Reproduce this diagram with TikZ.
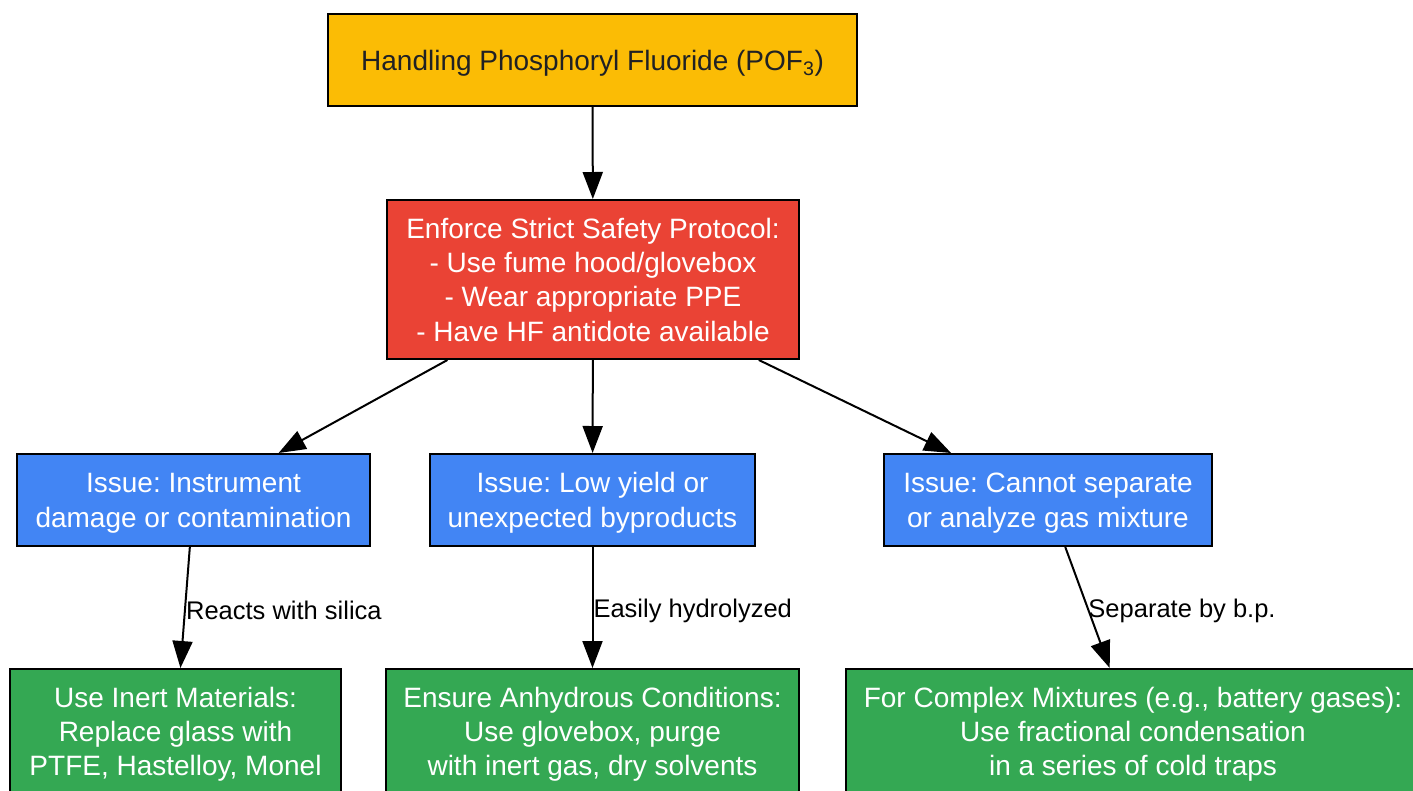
\documentclass[tikz,border=0pt]{standalone}
\usepackage{fontspec}
\setmainfont{Liberation Sans}
\usetikzlibrary{arrows.meta}
\frenchspacing

\definecolor{pofyellow}{HTML}{FBBC05}
\definecolor{pofred}{HTML}{EA4335}
\definecolor{pofblue}{HTML}{4285F4}
\definecolor{pofgreen}{HTML}{34A853}
\definecolor{poftext}{HTML}{202124}

% every line gets the same fixed height, so the text sits like the layout engine's
\newcommand{\boxlines}[1]{%
  \setbox\strutbox\hbox{\vrule height 27.2pt depth 7.1pt width 0pt}%
  \begin{tabular}{@{}c@{}}#1\end{tabular}}

\begin{document}
\begin{tikzpicture}[x=1pt,y=-1pt,
    box/.style={draw=black, line width=2pt, inner sep=0pt,
        font=\fontsize{28}{34.3}\selectfont},
    edge/.style={draw, line width=2pt, -{Triangle[length=27pt,width=20pt]}},
    elabel/.style={anchor=west, inner sep=0pt, yshift=-3pt, font=\fontsize{25.5}{30}\selectfont}]
\clip (0,0) rectangle (1413,790);

% Start
\node[box, fill=pofyellow, text=poftext, minimum width=529pt, minimum height=92pt]
    (start) at (592.5,60) {\boxlines{Handling Phosphoryl Fluoride (POF\textsubscript{3})}};

% Safety
\node[box, fill=pofred, text=white, minimum width=412pt, minimum height=159pt]
    (safety) at (593,279.5) {\boxlines{Enforce Strict Safety Protocol:\\- Use fume hood/glovebox\\- Wear appropriate PPE\\- Have HF antidote available}};

% Issues
\node[box, fill=pofblue, text=white, minimum width=353pt, minimum height=92pt]
    (damage) at (193.5,500) {\boxlines{Issue: Instrument\\damage or contamination}};
\node[box, fill=pofblue, text=white, minimum width=325pt, minimum height=92pt]
    (yield) at (592.5,500) {\boxlines{Issue: Low yield or\\unexpected byproducts}};
\node[box, fill=pofblue, text=white, minimum width=328pt, minimum height=92pt]
    (mixture) at (1048,500) {\boxlines{Issue: Cannot separate\\or analyze gas mixture}};

% Solutions
\node[box, fill=pofgreen, text=white, minimum width=331pt, minimum height=125pt]
    (inert) at (175.5,731.5) {\boxlines{Use Inert Materials:\\Replace glass with\\PTFE, Hastelloy, Monel}};
\node[box, fill=pofgreen, text=white, minimum width=413pt, minimum height=125pt]
    (anhydrous) at (592.5,731.5) {\boxlines{Ensure Anhydrous Conditions:\\Use glovebox, purge\\with inert gas, dry solvents}};
\node[box, fill=pofgreen, text=white, minimum width=574pt, minimum height=125pt]
    (traps) at (1133,731.5) {\boxlines{For Complex Mixtures (e.g., battery gases):\\Use fractional condensation\\in a series of cold traps}};

% Edges
\draw[edge] (start) -- (safety);
\draw[edge] (safety) -- (damage);
\draw[edge] (safety) -- (yield);
\draw[edge] (safety) -- (mixture);
\draw[edge] (damage) -- (inert) node[elabel, midway] {Reacts with silica};
\draw[edge] (yield) -- (anhydrous) node[elabel, midway] {Easily hydrolyzed};
\draw[edge] (mixture) -- (traps) node[elabel, midway] {Separate by b.p.};

\end{tikzpicture}
\end{document}
